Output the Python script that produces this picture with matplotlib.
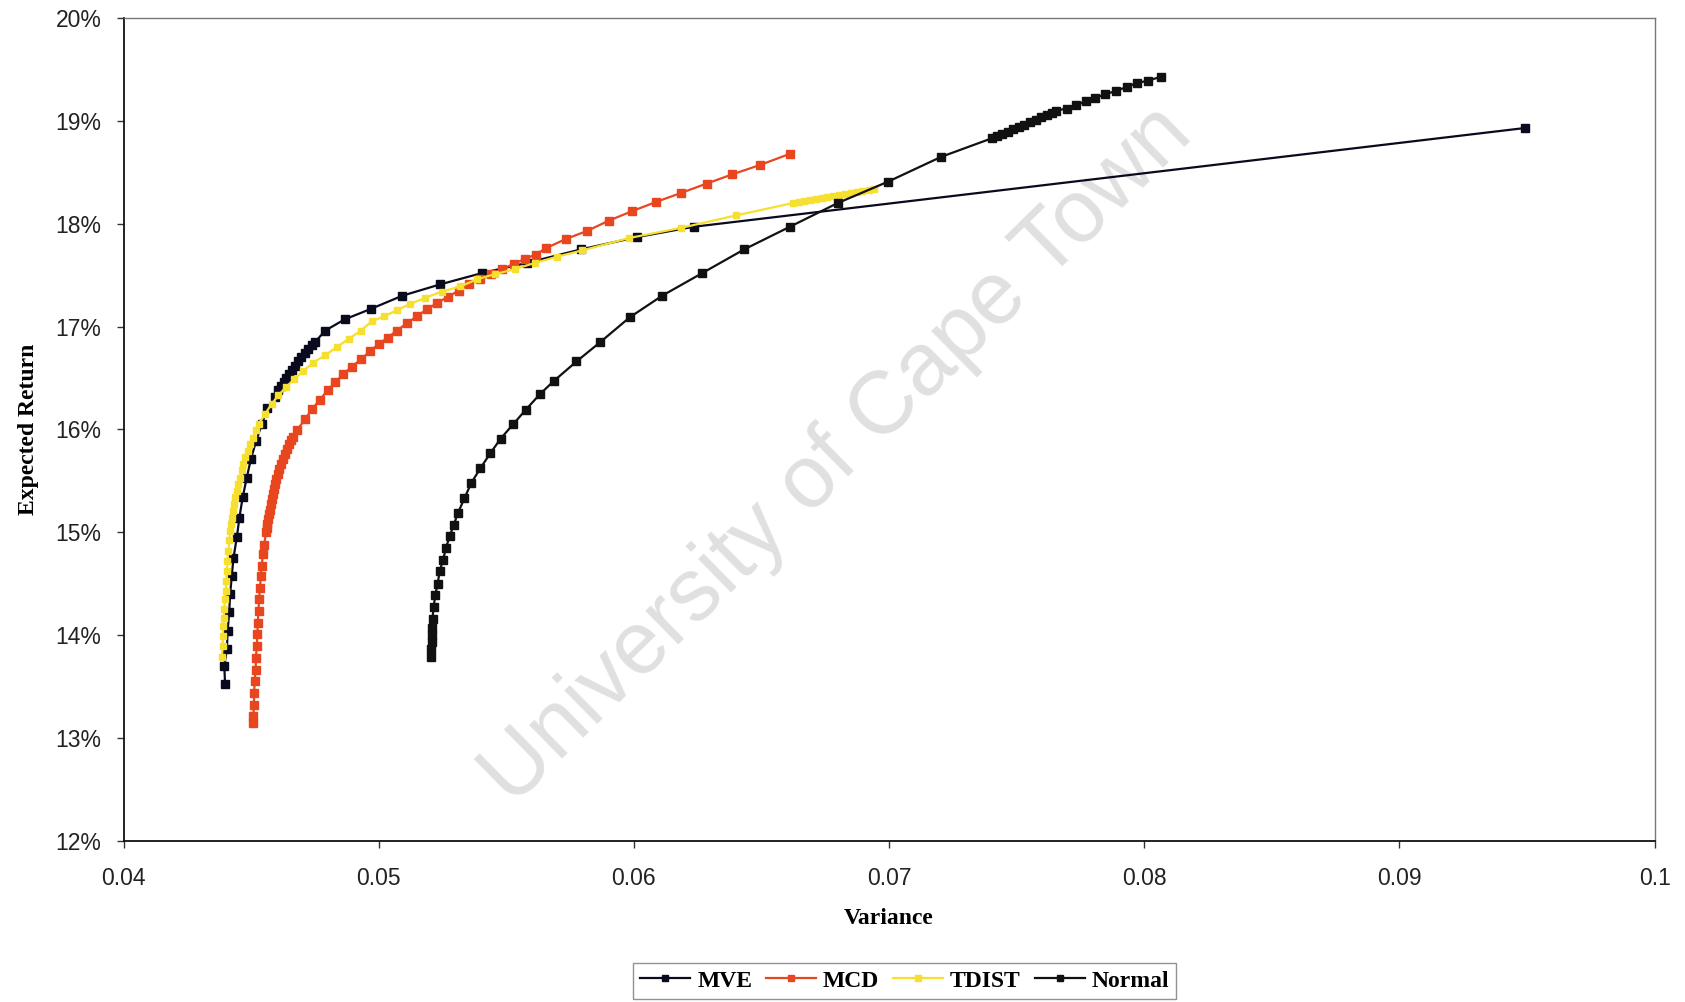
import matplotlib
matplotlib.use("Agg")
import matplotlib.pyplot as plt
from matplotlib.ticker import FuncFormatter

# ---------------- data (variance, expected return in %) ----------------
mve_var = [0.04398, 0.04395, 0.04405, 0.04408, 0.04414, 0.04418, 0.04424, 0.04431,
           0.04444, 0.04454, 0.04467, 0.04483, 0.04499, 0.04520, 0.04542, 0.04564,
           0.04594, 0.04607, 0.04617, 0.04627, 0.04638, 0.04649, 0.04660, 0.04672,
           0.04684, 0.04697, 0.04710, 0.04724, 0.04738, 0.04751, 0.04790, 0.04867,
           0.04968, 0.05093, 0.05241, 0.05405, 0.05583, 0.05792, 0.06013, 0.06234,
           0.09490]
mve_ret = [13.52, 13.70, 13.86, 14.04, 14.22, 14.40, 14.57, 14.75,
           14.95, 15.14, 15.34, 15.53, 15.71, 15.89, 16.05, 16.21,
           16.31, 16.38, 16.42, 16.46, 16.50, 16.54, 16.58, 16.62,
           16.66, 16.70, 16.74, 16.78, 16.82, 16.85, 16.96, 17.07,
           17.17, 17.30, 17.41, 17.52, 17.62, 17.75, 17.87, 17.97,
           18.93]

mcd_var = [0.04509, 0.04509, 0.04511, 0.04512, 0.04514, 0.04518, 0.04519, 0.04522,
           0.04525, 0.04526, 0.04529, 0.04531, 0.04535, 0.04538, 0.04542, 0.04546,
           0.04551, 0.04559, 0.04562, 0.04564, 0.04567, 0.04571, 0.04574, 0.04577,
           0.04581, 0.04585, 0.04589, 0.04594, 0.04599, 0.04605, 0.04611, 0.04618,
           0.04625, 0.04633, 0.04641, 0.04650, 0.04658, 0.04666, 0.04679, 0.04712,
           0.04740, 0.04770, 0.04800, 0.04830, 0.04862, 0.04895, 0.04930, 0.04966,
           0.05000, 0.05035, 0.05070, 0.05110, 0.05150, 0.05190, 0.05230, 0.05272,
           0.05314, 0.05355, 0.05398, 0.05440, 0.05485, 0.05530, 0.05575, 0.05615,
           0.05654, 0.05732, 0.05817, 0.05902, 0.05991, 0.06085, 0.06186, 0.06285,
           0.06386, 0.06493, 0.06612]
mcd_ret = [13.14, 13.21, 13.32, 13.44, 13.55, 13.66, 13.78, 13.89,
           14.01, 14.12, 14.23, 14.35, 14.46, 14.57, 14.67, 14.79,
           14.88, 15.00, 15.04, 15.08, 15.13, 15.18, 15.22, 15.27,
           15.32, 15.37, 15.42, 15.47, 15.52, 15.57, 15.61, 15.66,
           15.71, 15.76, 15.81, 15.86, 15.90, 15.93, 15.99, 16.10,
           16.20, 16.29, 16.38, 16.46, 16.54, 16.61, 16.68, 16.76,
           16.83, 16.89, 16.96, 17.03, 17.10, 17.17, 17.23, 17.29,
           17.35, 17.41, 17.46, 17.51, 17.56, 17.61, 17.66, 17.70,
           17.76, 17.85, 17.93, 18.03, 18.12, 18.21, 18.30, 18.39,
           18.48, 18.57, 18.68]

tdist_var = [0.04385, 0.04389, 0.04389, 0.04391, 0.04394, 0.04394, 0.04398, 0.04401,
             0.04402, 0.04405, 0.04407, 0.04411, 0.04415, 0.04418, 0.04421, 0.04424,
             0.04428, 0.04433, 0.04438, 0.04444, 0.04450, 0.04457, 0.04463, 0.04470,
             0.04478, 0.04487, 0.04497, 0.04507, 0.04518, 0.04529, 0.04555, 0.04581,
             0.04607, 0.04636, 0.04670, 0.04705, 0.04744, 0.04790, 0.04836, 0.04882,
             0.04930, 0.04973, 0.05022, 0.05072, 0.05124, 0.05183, 0.05248, 0.05320,
             0.05386, 0.05457, 0.05536, 0.05614, 0.05700, 0.05797, 0.05980, 0.06186,
             0.06399, 0.06622, 0.06646, 0.06667, 0.06691, 0.06712, 0.06736, 0.06757,
             0.06781, 0.06802, 0.06827, 0.06849, 0.06874, 0.06895, 0.06921, 0.06942]
tdist_ret = [13.79, 13.89, 13.99, 14.09, 14.17, 14.25, 14.35, 14.43,
             14.53, 14.62, 14.72, 14.82, 14.92, 15.01, 15.08, 15.14,
             15.21, 15.27, 15.34, 15.40, 15.47, 15.53, 15.60, 15.66,
             15.73, 15.79, 15.86, 15.92, 15.99, 16.05, 16.15, 16.25,
             16.33, 16.41, 16.49, 16.57, 16.65, 16.72, 16.80, 16.88,
             16.96, 17.05, 17.10, 17.16, 17.22, 17.28, 17.34, 17.39,
             17.46, 17.51, 17.56, 17.62, 17.68, 17.74, 17.86, 17.96,
             18.08, 18.20, 18.21, 18.22, 18.23, 18.24, 18.25, 18.26,
             18.27, 18.28, 18.29, 18.30, 18.31, 18.32, 18.33, 18.34]

normal_var = [0.05206, 0.05206, 0.05207, 0.05208, 0.05209, 0.05211, 0.05215, 0.05222,
              0.05231, 0.05239, 0.05252, 0.05264, 0.05278, 0.05294, 0.05311, 0.05336,
              0.05363, 0.05398, 0.05438, 0.05478, 0.05527, 0.05576, 0.05631, 0.05686,
              0.05775, 0.05869, 0.05984, 0.06111, 0.06268, 0.06432, 0.06611, 0.06798,
              0.06997, 0.07204, 0.07402, 0.07422, 0.07443, 0.07465, 0.07486, 0.07508,
              0.07530, 0.07552, 0.07574, 0.07596, 0.07620, 0.07640, 0.07655, 0.07697,
              0.07732, 0.07770, 0.07806, 0.07847, 0.07889, 0.07931, 0.07973, 0.08015,
              0.08065]
normal_ret = [13.79, 13.86, 13.93, 14.00, 14.07, 14.16, 14.27, 14.39,
              14.50, 14.62, 14.73, 14.85, 14.96, 15.07, 15.19, 15.33,
              15.48, 15.62, 15.77, 15.91, 16.05, 16.19, 16.34, 16.47,
              16.66, 16.85, 17.09, 17.30, 17.52, 17.75, 17.97, 18.20,
              18.41, 18.65, 18.83, 18.85, 18.87, 18.89, 18.92, 18.94,
              18.96, 18.99, 19.01, 19.04, 19.06, 19.08, 19.10, 19.12,
              19.15, 19.19, 19.22, 19.26, 19.29, 19.33, 19.37, 19.39,
              19.43]

series_names = ["MVE", "MCD", "TDIST", "Normal"]
x_ticks = [0.04, 0.05, 0.06, 0.07, 0.08, 0.09, 0.1]
y_ticks = [12, 13, 14, 15, 16, 17, 18, 19, 20]

# ---------------- figure ----------------
SANS = ["Liberation Sans", "DejaVu Sans"]
SERIF = ["Liberation Serif", "DejaVu Serif"]

fig = plt.figure(figsize=(16.85, 10.02), dpi=100)
ax = fig.add_axes([0.0733, 0.161, 0.9087, 0.821])

styles = [
    dict(color="#0a0a1e", markersize=5.8),
    dict(color="#e8461e", markersize=5.3),
    dict(color="#f6df2e", markersize=5.0),
    dict(color="#111111", markersize=5.8),
]
data = [(mve_var, mve_ret), (mcd_var, mcd_ret), (tdist_var, tdist_ret), (normal_var, normal_ret)]
for (xv, yv), name, st in zip(data, series_names, styles):
    ax.plot(xv, yv, label=name, color=st["color"], marker="s",
            markersize=st["markersize"], linewidth=1.6, zorder=3)

# watermark
ax.text(0.4665, 0.468, "University of Cape Town", transform=ax.transAxes,
        rotation=44.5, fontsize=64, color="#e0e0e0", ha="center", va="center",
        family=SANS, zorder=1)

ax.set_xlim(0.04, 0.1)
ax.set_ylim(12, 20)
ax.set_xticks(x_ticks)
ax.set_yticks(y_ticks)
ax.xaxis.set_major_formatter(FuncFormatter(lambda v, p: f"{v:g}"))
ax.yaxis.set_major_formatter(FuncFormatter(lambda v, p: f"{v:.0f}%"))

ax.tick_params(axis="both", direction="out", length=5, width=1, color="#333333",
               labelsize=16.5, labelcolor="#222222")
ax.tick_params(axis="y", pad=11)
ax.tick_params(axis="x", pad=14)
for lab in ax.get_xticklabels() + ax.get_yticklabels():
    lab.set_family(SANS)

for side in ["left", "bottom"]:
    ax.spines[side].set_color("#111111")
    ax.spines[side].set_linewidth(1.3)
for side in ["top", "right"]:
    ax.spines[side].set_color("#777777")
    ax.spines[side].set_linewidth(1.0)

ax.set_xlabel("Variance", family=SERIF, fontweight="bold", fontsize=17)
ax.set_ylabel("Expected Return", family=SERIF, fontweight="bold", fontsize=17)
ax.xaxis.set_label_coords(0.5, -0.082)
ax.yaxis.set_label_coords(-0.055, 0.5)

leg = fig.legend(loc="center", bbox_to_anchor=(0.537, 0.021), ncol=4,
                 prop={"family": SERIF, "weight": "bold", "size": 17},
                 frameon=True, fancybox=False, edgecolor="#777777",
                 handlelength=2.1, handletextpad=0.3, columnspacing=0.6,
                 borderpad=0.3, markerscale=0.8)
leg.get_frame().set_linewidth(1.0)

fig.savefig("out.png", dpi=100, facecolor="white")
